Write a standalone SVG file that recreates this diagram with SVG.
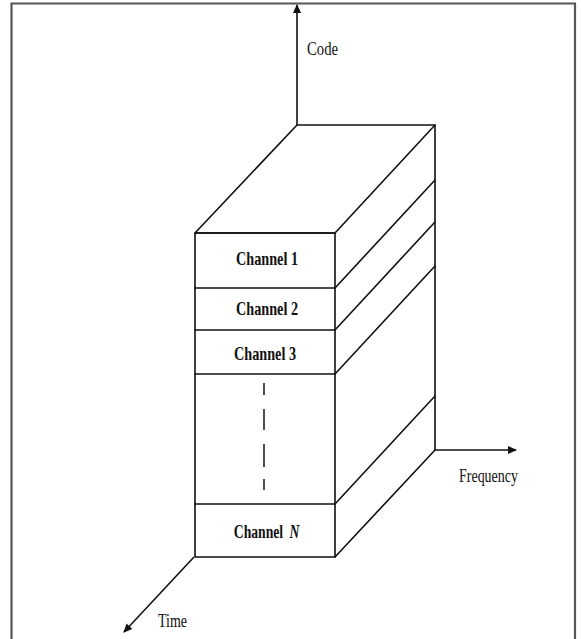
<svg xmlns="http://www.w3.org/2000/svg" width="581" height="639" viewBox="0 0 581 639">
<style>
.ln{stroke:#111;stroke-width:1.6;fill:none;stroke-linecap:round;stroke-linejoin:round}
.ax{stroke:#111;stroke-width:1.6;fill:none}
.ch{font-family:"Liberation Serif","Times New Roman",serif;font-weight:bold;font-size:19px;fill:#111;text-anchor:middle}
.lb{font-family:"Liberation Serif","Times New Roman",serif;font-size:19px;fill:#111}
</style>
<defs>
<marker id="ah" markerWidth="10" markerHeight="10" refX="8" refY="5" orient="auto" markerUnits="userSpaceOnUse">
<path d="M0,1 L9,5 L0,9 Z" fill="#111"/>
</marker>
</defs>
<rect width="581" height="639" fill="#fff"/>
<path d="M11.5,650 V3.5 H575 V650" fill="none" stroke="#555" stroke-width="2.2"/>
<g id="axes">
<line class="ax" x1="297" y1="125" x2="297" y2="5" marker-end="url(#ah)"/>
<line class="ax" x1="434" y1="450" x2="516" y2="450" marker-end="url(#ah)"/>
<line class="ax" x1="194" y1="557" x2="124" y2="632" marker-end="url(#ah)"/>
<text class="lb" x="307" y="55" textLength="31" lengthAdjust="spacingAndGlyphs">Code</text>
<text class="lb" x="459" y="482" textLength="59" lengthAdjust="spacingAndGlyphs">Frequency</text>
<text class="lb" x="158" y="627" textLength="29" lengthAdjust="spacingAndGlyphs">Time</text>
</g>
<g id="block">
<path class="ln" d="M195,233 L297,125 L435,125 L335,233 Z"/>
<path class="ln" d="M435,125 V450 L335,557"/>
<rect class="ln" x="195" y="233" width="140" height="324"/>
</g>
<g id="connectors">
<path class="ln" d="M335,288 L435,180 M335,330 L435,222 M335,374 L435,266 M335,504 L435,396"/>
</g>
<g id="channel1">
<line class="ln" x1="195" y1="288" x2="335" y2="288"/>
<text class="ch" x="267" y="265" textLength="62" lengthAdjust="spacingAndGlyphs">Channel 1</text>
</g>
<g id="channel2">
<line class="ln" x1="195" y1="330" x2="335" y2="330"/>
<text class="ch" x="267" y="315" textLength="62" lengthAdjust="spacingAndGlyphs">Channel 2</text>
</g>
<g id="channel3">
<line class="ln" x1="195" y1="374" x2="335" y2="374"/>
<text class="ch" x="265" y="360" textLength="62" lengthAdjust="spacingAndGlyphs">Channel 3</text>
</g>
<g id="ellipsis">
<path d="M264,383 V395 M264,409 V430 M264,444 V467 M264,479 V490" stroke="#222" stroke-width="1.6" fill="none"/>
</g>
<g id="channelN">
<line class="ln" x1="195" y1="504" x2="335" y2="504"/>
<g transform="translate(0,538) scale(0.72,1)">
<text class="ch" x="359" y="0">Channel</text>
<text class="ch" x="409" y="0" font-style="italic">N</text>
</g>
</g>
</svg>
